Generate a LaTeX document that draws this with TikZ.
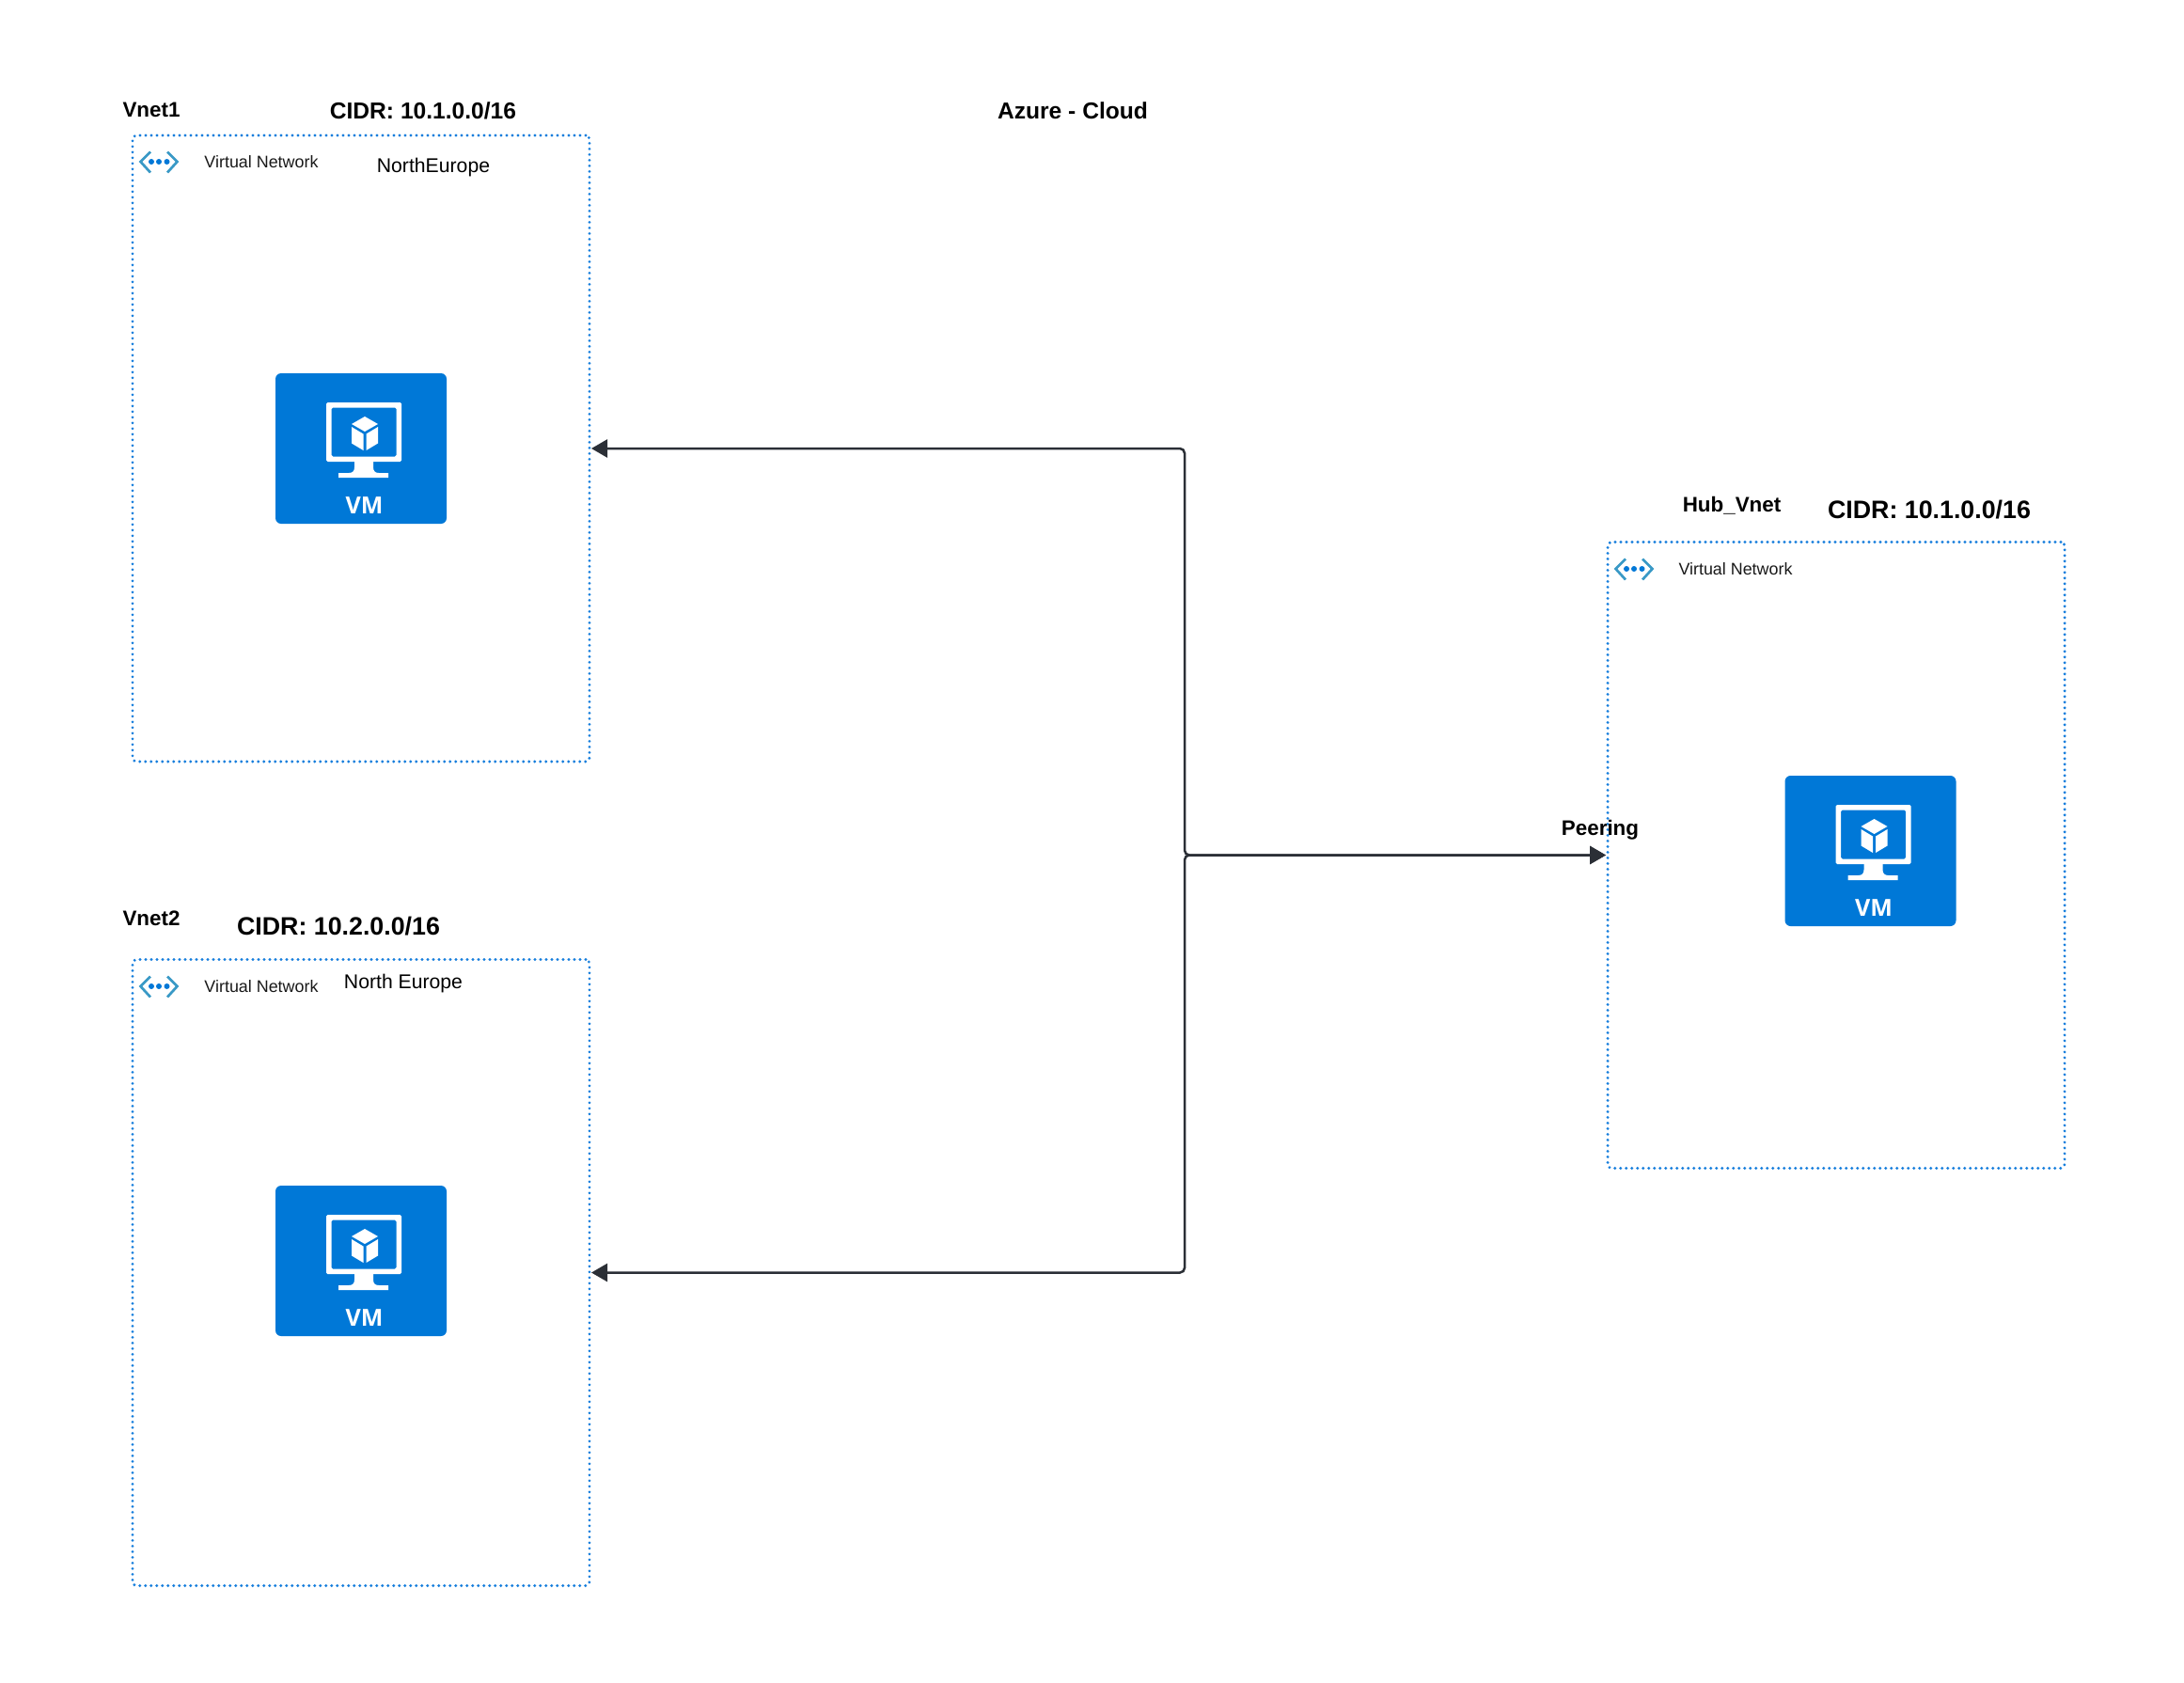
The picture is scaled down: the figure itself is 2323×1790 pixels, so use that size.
\documentclass[tikz,border=0pt]{standalone}
\usepackage{fontspec}
\setmainfont{Liberation Sans}
\newfontfamily\vmfont{Open Sans}
\usetikzlibrary{arrows.meta}
\definecolor{azblue}{RGB}{0,120,215}
\definecolor{dotblue}{RGB}{20,125,220}
\definecolor{chevA}{RGB}{57,153,198}
\definecolor{linecol}{RGB}{43,47,54}
\newcommand{\fs}[1]{\fontsize{#1}{#1}\selectfont}
\tikzset{
  x=1pt,y=-1pt,
  vnetbox/.style={draw=dotblue,line width=3.2pt,line cap=round,dash pattern=on 0pt off 6pt,rounded corners=4pt,
    minimum width=486pt,minimum height=666pt,inner sep=0pt,outer sep=0pt},
  vmbox/.style={fill=azblue,rounded corners=6pt,minimum width=182pt,minimum height=160pt,inner sep=0pt,outer sep=0pt},
  head/.style={font=\fs{22.4}\bfseries,text=black,inner sep=0pt,anchor=center},
  headmid/.style={font=\fs{24.6}\bfseries,text=black,inner sep=0pt,anchor=center},
  headbig/.style={font=\fs{26.8}\bfseries,text=black,inner sep=0pt,anchor=center},
  small/.style={font=\fs{17.9},text=black!90,inner sep=0pt,anchor=center},
  region/.style={font=\fs{21.2},text=black,inner sep=0pt,anchor=center},
  conn/.style={draw=linecol,line width=2.5pt,rounded corners=5pt,shorten >=2pt,shorten <=2pt},
  tips/.style={{Triangle[length=17pt,width=19pt]}-{Triangle[length=17pt,width=19pt]}},
  vmicon/.pic={
    \fill[white,even odd rule,rounded corners=1.5pt] (54,31) rectangle (134,94) (59.5,36.5) rectangle (128.5,88.5);
    \fill[white] (84,94) -- (104,94) -- (104,100) .. controls (104,104) and (106,106) .. (110,106) -- (120,106) -- (120,111) -- (67,111) -- (67,106) -- (78,106) .. controls (82,106) and (84,104) .. (84,100) -- cycle;
    \fill[white] (95,46) -- (109,54) -- (95,62) -- (81,54) -- cycle;
    \fill[white] (81,57) -- (93.5,64.5) -- (93.5,82) -- (81,74.5) -- cycle;
    \fill[white] (96.5,64.5) -- (109,57) -- (109,74.5) -- (96.5,82) -- cycle;
    \node[font=\vmfont\fs{25}\bfseries,text=white,inner sep=0pt] (-label) at (94.5,141) {VM};
  },
  neticon/.pic={
    \draw[chevA,line width=2.7pt] (19,17.5) -- (8.5,28) -- (19,39.5);
    \draw[chevA,line width=2.7pt] (37,17.5) -- (47.5,28) -- (37,39.5);
    \fill[azblue] (20,28) circle (3pt) (28,28) circle (3pt) (36.5,28) circle (3pt);
  },
}
\begin{document}
\begin{tikzpicture}
\useasboundingbox[fill=white] (0,0) rectangle (2323,1790);
% virtual network boxes
\node[vnetbox] (vnet1) at (384,477) {};
\node[vnetbox] (vnet2) at (384,1353.5) {};
\node[vnetbox] (hub) at (1953,909.5) {};
\pic (net1) at (141,144) {neticon};
\pic (net2) at (141,1021) {neticon};
\pic (net3) at (1710,577) {neticon};
% VMs
\node[vmbox] (vm1) at (384,477) {};
\node[vmbox] (vm2) at (384,1341) {};
\node[vmbox] (vm3) at (1989.5,905) {};
\pic (vm1i) at (293,397) {vmicon};
\pic (vm2i) at (293,1261) {vmicon};
\pic (vm3i) at (1898.5,825) {vmicon};
% connectors
\coordinate (j) at (1260,909.5);
\draw[conn,tips] (hub.west) -- (j) -- (j |- vnet1.east) -- (vnet1.east);
\draw[conn,tips] (hub.west) -- (j) -- (j |- vnet2.east) -- (vnet2.east);
% texts
\node[head] (t1) at (161,117) {Vnet1};
\node[headmid] (t2) at (450,118) {CIDR: 10.1.0.0/16};
\node[headmid] (t3) at (1141,117.5) {Azure - Cloud};
\node[small] (t4) at (278,172.5) {Virtual Network};
\node[region] (t5) at (461,178.5) {NorthEurope};
\node[head] (t6) at (161,977) {Vnet2};
\node[headbig] (t7) at (360,985) {CIDR: 10.2.0.0/16};
\node[small] (t8) at (278,1049.5) {Virtual Network};
\node[region] (t9) at (429,1046.5) {North Europe};
\node[head] (t10) at (1842,537.5) {Hub\_Vnet};
\node[headbig] (t11) at (2052,542) {CIDR: 10.1.0.0/16};
\node[small] (t12) at (1846,605.5) {Virtual Network};
\node[head] (t13) at (1702,882.5) {Peering};
\end{tikzpicture}
\end{document}
